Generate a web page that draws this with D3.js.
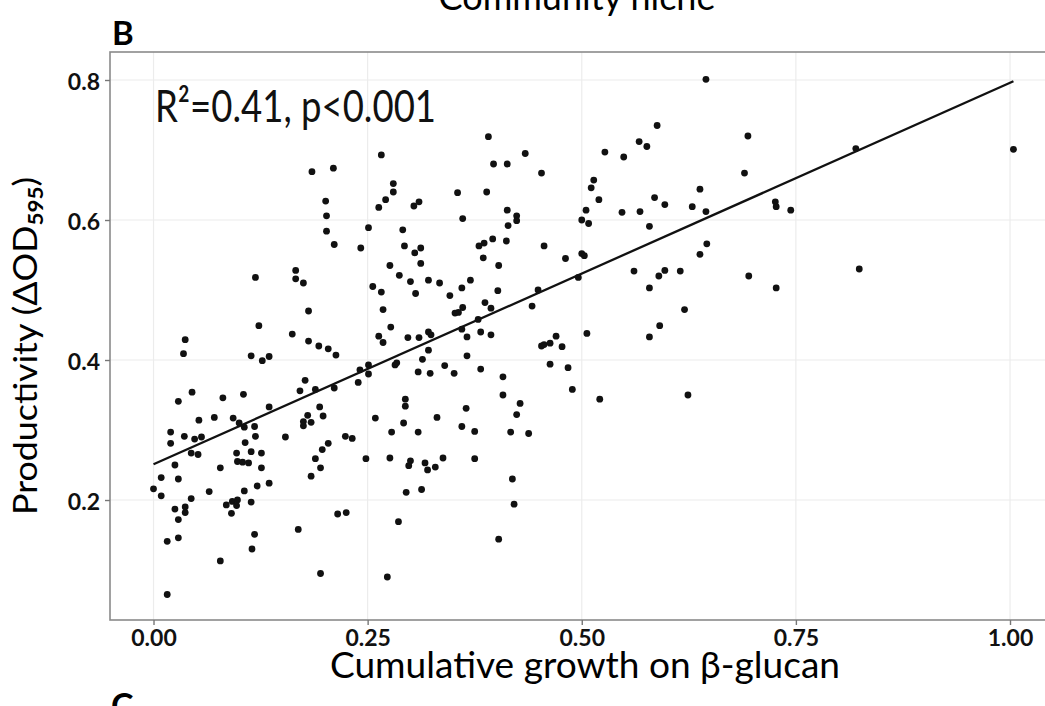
<!DOCTYPE html>
<html><head><meta charset="utf-8">
<script src="https://cdn.jsdelivr.net/npm/d3@7/dist/d3.min.js"></script>
<style>
html,body{margin:0;padding:0;background:#fff;}
svg{display:block;}
text{font-family:Lato,"Open Sans",sans-serif;}
</style></head>
<body>
<svg id="chart" width="1045" height="706"></svg>
<script>
// Cumulative growth on β-glucan (x)
const growth = [
0.185,0.210,0.201,0.202,0.202,0.211,0.119,0.166,0.166,0.175,0.181,0.123,0.162,0.037,0.181,0.035,0.193,0.204,0.213,0.114,
0.127,0.135,0.045,0.029,0.081,0.105,0.177,0.171,0.189,0.211,0.135,0.194,0.053,0.071,0.093,0.100,0.106,0.118,0.180,0.175,
0.175,0.184,0.198,0.020,0.020,0.036,0.048,0.056,0.119,0.154,0.224,0.107,0.204,0.044,0.052,0.097,0.114,0.126,0.197,0.098,
0.104,0.111,0.189,0.025,0.078,0.126,0.195,0.009,0.029,0.184,0.000,0.009,0.044,0.065,0.106,0.121,0.135,0.025,0.037,0.037,
0.029,0.085,0.092,0.098,0.097,0.091,0.114,0.215,0.225,0.169,0.016,0.029,0.118,0.115,0.078,0.195,0.016,
0.391,0.266,0.397,0.413,0.434,0.453,0.280,0.280,0.271,0.263,0.304,0.310,0.355,0.389,0.413,0.424,0.424,0.414,0.361,0.505,
0.500,0.508,0.511,0.251,0.242,0.291,0.293,0.305,0.312,0.312,0.276,0.287,0.300,0.306,0.321,0.334,0.256,0.266,0.268,0.277,
0.263,0.380,0.386,0.396,0.412,0.456,0.385,0.403,0.481,0.500,0.503,0.496,0.370,0.360,0.346,0.402,0.449,0.442,0.387,0.394,
0.361,0.356,0.352,0.379,0.360,0.382,0.394,0.366,0.321,0.324,0.310,0.297,0.470,0.506,
0.268,0.321,0.314,0.366,0.382,0.340,0.351,0.323,0.309,0.284,0.282,0.251,0.251,0.241,0.239,0.408,0.408,0.428,0.424,0.417,
0.438,0.453,0.456,0.463,0.477,0.463,0.484,0.489,0.294,0.294,0.292,0.259,0.278,0.309,0.331,0.365,0.360,0.375,0.232,0.248,
0.276,0.300,0.298,0.317,0.320,0.329,0.338,0.375,0.295,0.313,0.419,0.421,0.286,0.403,0.273,
0.645,0.588,0.694,0.567,0.576,0.527,0.549,0.820,1.004,0.690,0.514,0.520,0.547,0.568,0.585,0.597,0.629,0.638,0.645,0.579,
0.726,0.727,0.744,0.646,0.638,0.561,0.590,0.597,0.615,0.695,0.727,0.824,0.579,0.620,0.591,0.579,0.521,0.624
];
// Productivity (ΔOD595) (y)
const productivity = [
0.669,0.674,0.627,0.606,0.584,0.565,0.518,0.528,0.516,0.510,0.470,0.449,0.437,0.429,0.427,0.409,0.420,0.416,0.407,0.406,
0.399,0.405,0.354,0.341,0.346,0.351,0.371,0.356,0.358,0.360,0.333,0.333,0.314,0.318,0.317,0.310,0.304,0.305,0.321,0.312,
0.306,0.311,0.320,0.297,0.281,0.291,0.287,0.290,0.291,0.290,0.291,0.282,0.281,0.267,0.265,0.267,0.269,0.267,0.272,0.255,
0.254,0.253,0.259,0.250,0.246,0.246,0.246,0.232,0.230,0.234,0.216,0.206,0.202,0.212,0.213,0.220,0.224,0.187,0.190,0.182,
0.172,0.193,0.198,0.200,0.192,0.181,0.197,0.180,0.182,0.158,0.141,0.146,0.151,0.130,0.113,0.095,0.065,
0.719,0.693,0.680,0.680,0.695,0.667,0.652,0.640,0.629,0.618,0.620,0.626,0.639,0.640,0.614,0.606,0.599,0.592,0.602,0.614,
0.600,0.595,0.646,0.589,0.560,0.586,0.563,0.553,0.560,0.538,0.535,0.521,0.512,0.495,0.514,0.510,0.505,0.497,0.472,0.447,
0.434,0.563,0.567,0.573,0.570,0.563,0.546,0.535,0.545,0.552,0.549,0.518,0.514,0.503,0.492,0.499,0.500,0.477,0.482,0.474,
0.475,0.468,0.467,0.458,0.444,0.440,0.436,0.433,0.440,0.436,0.432,0.432,0.434,0.438,
0.425,0.414,0.401,0.406,0.387,0.392,0.381,0.381,0.383,0.396,0.393,0.393,0.380,0.386,0.368,0.376,0.350,0.338,0.322,0.297,
0.295,0.420,0.422,0.424,0.419,0.394,0.389,0.358,0.344,0.334,0.310,0.317,0.297,0.297,0.318,0.331,0.305,0.298,0.288,0.259,
0.260,0.256,0.249,0.253,0.243,0.247,0.260,0.259,0.211,0.215,0.230,0.194,0.169,0.144,0.090,
0.801,0.735,0.720,0.712,0.705,0.697,0.690,0.702,0.701,0.667,0.657,0.629,0.611,0.612,0.632,0.622,0.619,0.644,0.612,0.591,
0.626,0.619,0.614,0.566,0.551,0.527,0.520,0.528,0.527,0.520,0.503,0.530,0.503,0.472,0.449,0.433,0.344,0.350
];
const xTicks = [0, 0.25, 0.5, 0.75, 1.0];
const xTickLabels = ["0.00", "0.25", "0.50", "0.75", "1.00"];
const yTicks = [0.2, 0.4, 0.6, 0.8];
const yTickLabels = ["0.2", "0.4", "0.6", "0.8"];
const fitIntercept = 0.251;
const fitSlope = 0.545;
const fitRange = [0, 1.004];
const statLabel = "R²=0.41, p<0.001";

const svg = d3.select("#chart");
const P = {left:110, right:1056, top:52, bottom:620};

const x = d3.scaleLinear().domain([-0.0508, 1.0537]).range([P.left, P.right]);
const y = d3.scaleLinear().domain([0.0286, 0.84]).range([P.bottom, P.top]);

const clipId = "panelclip";
svg.append("defs").append("clipPath").attr("id", clipId)
  .append("rect").attr("x", P.left).attr("y", P.top).attr("width", P.right-P.left).attr("height", P.bottom-P.top);

const panel = svg.append("g").attr("clip-path", `url(#${clipId})`);
panel.append("rect").attr("x", P.left).attr("y", P.top).attr("width", P.right-P.left).attr("height", P.bottom-P.top).attr("fill", "#fff");

// gridlines
panel.selectAll(".gx").data(xTicks).enter().append("line")
  .attr("x1", d=>x(d)).attr("x2", d=>x(d)).attr("y1", P.top).attr("y2", P.bottom)
  .attr("stroke", "#ececec").attr("stroke-width", 1.2);
panel.selectAll(".gy").data(yTicks).enter().append("line")
  .attr("y1", d=>y(d)).attr("y2", d=>y(d)).attr("x1", P.left).attr("x2", P.right)
  .attr("stroke", "#ececec").attr("stroke-width", 1.2);

// points
const pts = growth.map((g,i)=>({g, p:productivity[i]}));
panel.selectAll("circle").data(pts).enter().append("circle")
  .attr("cx", d=>x(d.g)).attr("cy", d=>y(d.p)).attr("r", 3.4).attr("fill", "#111");

// regression line
const lineData = fitRange.map(v=>({g:v, p:fitIntercept + fitSlope*v}));
panel.append("path").datum(lineData)
  .attr("d", d3.line().x(d=>x(d.g)).y(d=>y(d.p)))
  .attr("fill", "none").attr("stroke", "#111").attr("stroke-width", 2.3);

// panel border
svg.append("rect").attr("x", P.left).attr("y", P.top).attr("width", P.right-P.left).attr("height", P.bottom-P.top)
  .attr("fill", "none").attr("stroke", "#8a8a8a").attr("stroke-width", 1.6);

// axes
const xAxis = svg.append("g").attr("transform", `translate(0,${P.bottom})`)
  .call(d3.axisBottom(x).tickValues(xTicks).tickFormat((d,i)=>xTickLabels[i]).tickSize(5).tickPadding(5));
const yAxis = svg.append("g").attr("transform", `translate(${P.left},0)`)
  .call(d3.axisLeft(y).tickValues(yTicks).tickFormat((d,i)=>yTickLabels[i]).tickSize(5).tickPadding(5));
[xAxis, yAxis].forEach(a=>{
  a.select(".domain").remove();
  a.selectAll(".tick line").attr("stroke", "#777").attr("stroke-width", 1.4);
  a.selectAll(".tick text").attr("fill", "#111").style("font-family", "Lato, sans-serif")
    .style("font-size", "23px").style("font-weight", "bold");
});
yAxis.selectAll(".tick text").attr("dy", "0.42em");
xAxis.selectAll(".tick text").attr("dy", "0.71em");

// stat label
svg.append("text").attr("x", 155).attr("y", 122).attr("fill", "#111")
  .style("font-size", "44px").attr("textLength", 281).attr("lengthAdjust", "spacingAndGlyphs")
  .text(statLabel);

// axis titles
svg.append("text").attr("x", 585).attr("y", 678).attr("text-anchor", "middle").attr("fill", "#000")
  .style("font-size", "36px").attr("textLength", 510).attr("lengthAdjust", "spacingAndGlyphs")
  .text("Cumulative growth on β-glucan");

const yt = svg.append("text").attr("transform", "translate(37,346) rotate(-90) scale(1.12,1)")
  .attr("text-anchor", "middle").attr("fill", "#000").style("font-size", "32px");
yt.append("tspan").text("Productivity (ΔOD");
yt.append("tspan").attr("dy", 6).style("font-size", "20px").style("font-weight", "bold").text("595");
yt.append("tspan").attr("dy", -6).text(")");

// panel letters and title
svg.append("text").attr("x", 112).attr("y", 45).style("font-size", "33px").style("font-weight", "bold").attr("fill", "#000").text("B");
svg.append("text").attr("x", 111).attr("y", 718).style("font-size", "34px").style("font-weight", "bold").attr("fill", "#000").text("C");
svg.append("text").attr("x", 577).attr("y", 10).attr("text-anchor", "middle").style("font-size", "36px").attr("fill", "#000").text("Community niche");
</script>
</body></html>
